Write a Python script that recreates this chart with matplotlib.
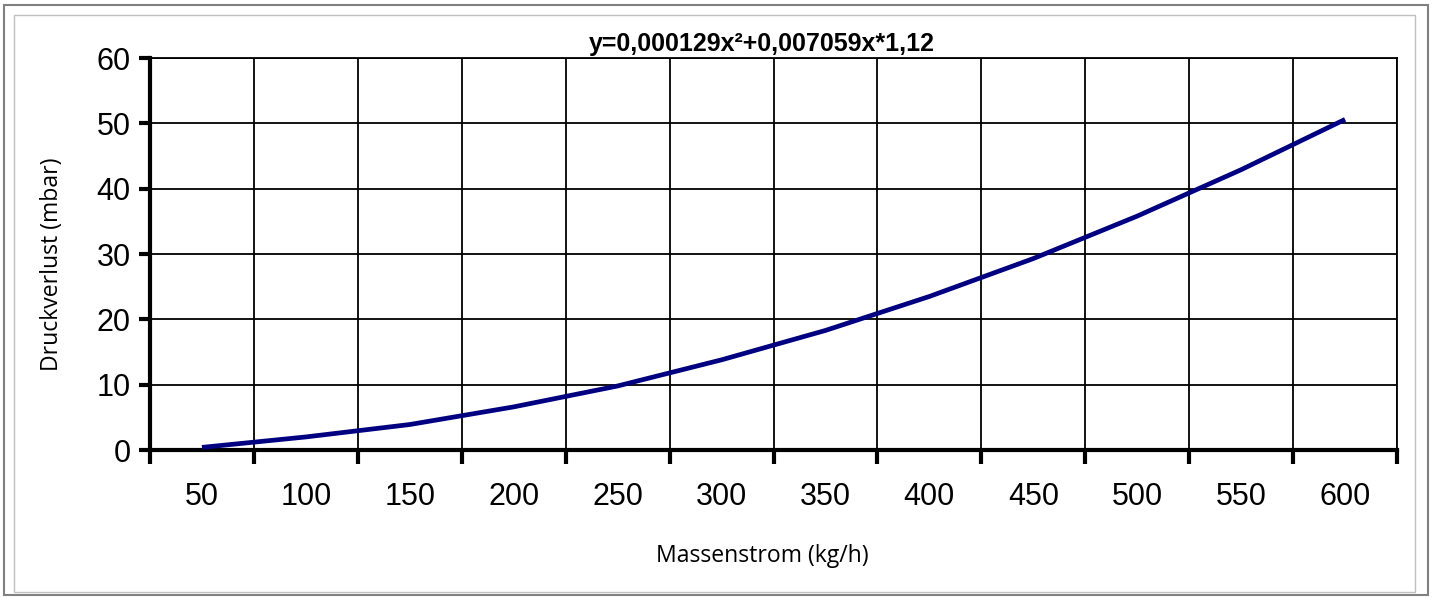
import matplotlib.pyplot as plt
import numpy as np
from matplotlib.patches import Rectangle

# Daten
massenstrom = [50, 100, 150, 200, 250, 300, 350, 400, 450, 500, 550, 600]
druckverlust = [0.4, 2.0, 3.9, 6.6, 9.8, 13.8, 18.3, 23.5, 29.3, 35.8, 42.9, 50.6]
titel = "y=0,000129x²+0,007059x*1,12"

W, H = 1434, 599
fig = plt.figure(figsize=(W / 100, H / 100), dpi=100)

# Rahmen wie im Excel-Diagramm
fig.patches.append(Rectangle((4 / W, 1 - 595 / H), 1424 / W, 590 / H, transform=fig.transFigure,
                             fill=False, edgecolor="#808080", lw=1.5))
fig.patches.append(Rectangle((14 / W, 1 - 592 / H), 1401 / W, 577 / H, transform=fig.transFigure,
                             fill=False, edgecolor="#c0c0c0", lw=1))

ax = fig.add_axes([150 / W, 1 - 450 / H, (1397 - 150) / W, (450 - 58) / H])

x = np.arange(len(massenstrom))
ax.plot(x, druckverlust, color="#000080", lw=3.4, solid_capstyle="butt", zorder=3)

ax.set_xlim(-0.5, len(massenstrom) - 0.5)
ax.set_ylim(0, 60)
ax.set_yticks(np.arange(0, 61, 10))

# Kategorieachse: Gitter und Striche an den Grenzen, Beschriftung in der Mitte
ax.set_xticks(np.arange(-0.5, len(massenstrom), 1))
ax.set_xticklabels([])
ax.set_xticks(x, minor=True)
ax.set_xticklabels([str(v) for v in massenstrom], minor=True)
ax.tick_params(axis="x", which="minor", length=0, pad=23, labelsize=22)
ax.tick_params(axis="x", which="major", length=10, width=3, direction="out")
ax.tick_params(axis="y", length=8, width=3, direction="out", labelsize=22, pad=6)

ax.grid(True, which="major", color="black", lw=1.3)
ax.set_axisbelow(True)

for s in ["top", "right"]:
    ax.spines[s].set_linewidth(1.3)
for s in ["left", "bottom"]:
    ax.spines[s].set_linewidth(3)

for lab in ax.get_xticklabels(minor=True) + ax.get_yticklabels():
    lab.set_fontfamily("Liberation Sans")

ax.set_title(titel, fontsize=18, fontweight="bold", family="Liberation Sans", pad=5, x=0.491)
ax.set_xlabel("Massenstrom (kg/h)", fontsize=16.6, family="Open Sans")
ax.set_ylabel("Druckverlust (mbar)", fontsize=16.6, family="Open Sans")
ax.xaxis.set_label_coords(0.491, -0.24)
ax.yaxis.set_label_coords(-0.069, 0.475)

fig.savefig("out.png", dpi=100)
